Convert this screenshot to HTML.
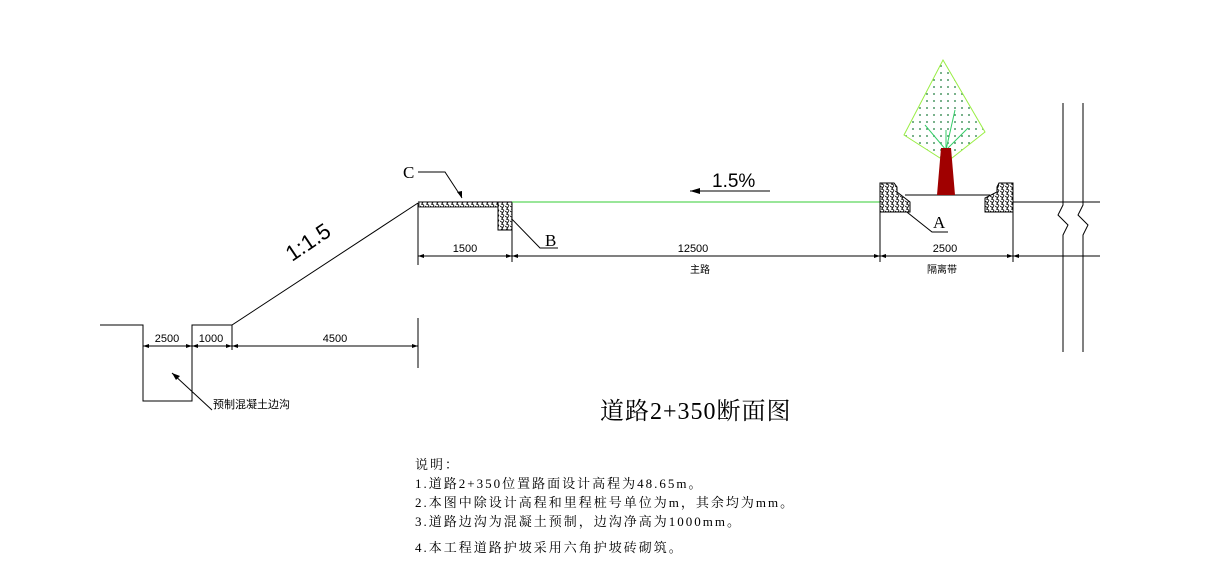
<!DOCTYPE html>
<html><head><meta charset="utf-8"><style>
body{margin:0;background:#fff;}
svg{display:block;}
text{font-family:"Liberation Sans","Noto Sans CJK SC",sans-serif;}
text.s{font-family:"Liberation Serif","Noto Serif CJK SC",serif;}
</style></head><body>
<svg width="1221" height="575" viewBox="0 0 1221 575" xmlns="http://www.w3.org/2000/svg">
<defs>
<pattern id="dots" width="7" height="7" patternUnits="userSpaceOnUse"><circle cx="3" cy="3" r="0.9" fill="#1a7a3a"/></pattern>
<pattern id="conc" width="5" height="5" patternUnits="userSpaceOnUse"><rect width="5" height="5" fill="#fff"/><path d="M0 1 L3 3 M4 0 L2 4 M1 4 L4 5" stroke="#111" stroke-width="0.9"/></pattern>
</defs>
<g stroke="#000" stroke-width="1" fill="none">
<polyline points="100,325 143,325 143,401 192,401 192,325 232,325 418,203"/>
<line x1="143" y1="346" x2="418" y2="346"/>
<line x1="418" y1="318" x2="418" y2="368"/>
<line x1="232" y1="325" x2="232" y2="350"/>
<line x1="172" y1="373" x2="212" y2="410"/>
<line x1="418" y1="202" x2="498" y2="202"/>
<line x1="418" y1="203" x2="418" y2="265"/>
<line x1="512" y1="230" x2="512" y2="262"/>
<line x1="880" y1="212" x2="880" y2="262"/>
<line x1="1013" y1="212" x2="1013" y2="262"/>
<line x1="418" y1="256" x2="1100" y2="256"/>
<line x1="1013" y1="202" x2="1100" y2="202"/>
<line x1="905" y1="195" x2="990" y2="195"/>
<polyline points="418,172 445,172 462,198"/>
<polyline points="505,212 540,248 558,248"/>
<polyline points="898,205 932,232 948,232"/>
<polyline points="690,191 770,191"/>
<polyline points="1063,103 1063,205 1058,215 1068,225 1063,235 1063,352"/>
<polyline points="1083,103 1083,205 1078,215 1088,225 1083,235 1083,352"/>
</g>
<g fill="#000">
<path d="M172,373 l8,3 l-4,4z"/>
<path d="M462,198 l-5,-6 l5,-1z"/>
<path d="M690,191 l10,-3 l0,6z"/>
<path d="M143,346 l6,-2 v4z M192,346 l-6,-2 v4z M192,346 l6,-2 v4z M232,346 l-6,-2 v4z M232,346 l6,-2 v4z M418,346 l-6,-2 v4z"/>
<path d="M418,256 l6,-2 v4z M512,256 l-6,-2 v4z M512,256 l6,-2 v4z M880,256 l-6,-2 v4z M880,256 l6,-2 v4z M1013,256 l-6,-2 v4z M1013,256 l6,-2 v4z"/>
</g>
<rect x="419" y="202" width="79" height="5" fill="url(#conc)" stroke="#000" stroke-width="0.8"/>
<rect x="498" y="202" width="14" height="28" fill="url(#conc)" stroke="#000" stroke-width="1"/>
<line x1="512" y1="202" x2="880" y2="202" stroke="#33cc33" stroke-width="1"/>
<path d="M880,183 h14 l3,4 v5 l13,10 v10 h-30z" fill="url(#conc)" stroke="#000"/>
<path d="M1013,183 h-14 l-2,4 v5 l-12,6 v14 h28z" fill="url(#conc)" stroke="#000"/>
<path d="M943,60 L985,132 L952,158 L940,158 L904,135 Z" fill="url(#dots)" stroke="#99ee44" stroke-width="1"/>
<g stroke="#33cc66" stroke-width="1"><line x1="946" y1="150" x2="955" y2="110"/><line x1="946" y1="150" x2="925" y2="125"/><line x1="946" y1="150" x2="968" y2="128"/><line x1="946" y1="150" x2="946" y2="130"/></g>
<path d="M941,148 h10 l4,47 h-18z" fill="#a00000"/>
<text class="s" x="403" y="178" font-size="17">C</text>
<text class="s" x="545" y="246" font-size="17">B</text>
<text class="s" x="933" y="228" font-size="17">A</text>
<text x="712" y="187" font-size="19">1.5%</text>
<text x="0" y="0" font-size="22" transform="translate(292,262) rotate(-34)">1:1.5</text>
<g font-size="11" text-anchor="middle">
<text x="167" y="342">2500</text><text x="211" y="342">1000</text><text x="335" y="342">4500</text>
<text x="465" y="252">1500</text><text x="693" y="252">12500</text><text x="945" y="252">2500</text>
<text x="700" y="273" font-size="10">主路</text><text x="942" y="273" font-size="10">隔离带</text>
</g>
<text x="213" y="408" font-size="11">预制混凝土边沟</text>
<text class="s" x="600" y="419" font-size="24" letter-spacing="1">道路2+350断面图</text>
<g font-size="13">
<text class="s" x="415" y="469" letter-spacing="2">说明：</text>
<text class="s" x="415" y="488" letter-spacing="2">1.道路2+350位置路面设计高程为48.65m。</text>
<text class="s" x="415" y="507" letter-spacing="2">2.本图中除设计高程和里程桩号单位为m，其余均为mm。</text>
<text class="s" x="415" y="526" letter-spacing="2">3.道路边沟为混凝土预制，边沟净高为1000mm。</text>
<text class="s" x="415" y="552" letter-spacing="2">4.本工程道路护坡采用六角护坡砖砌筑。</text>
</g>
</svg>
</body></html>
